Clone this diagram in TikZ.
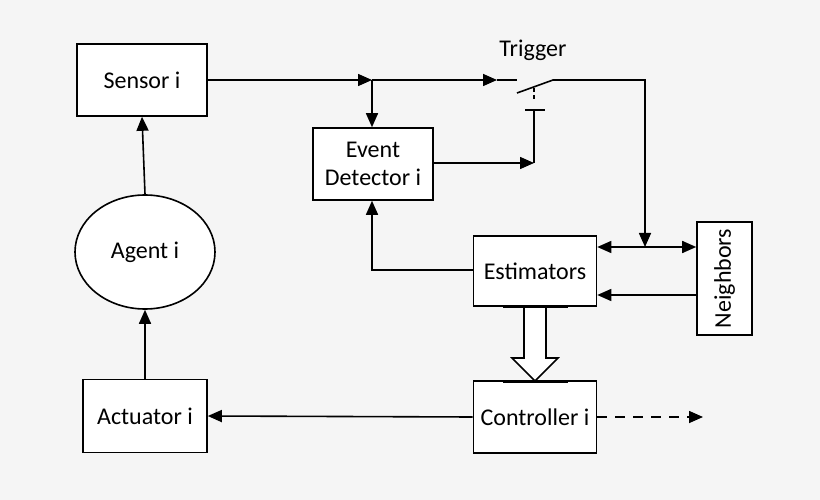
\documentclass[tikz,border=0pt]{standalone}
\usepackage{fontspec}
\setmainfont{Carlito}
\usetikzlibrary{arrows.meta,shapes.geometric}
\newcommand{\myfont}{\fontsize{24}{28}\selectfont}
\begin{document}
\begin{tikzpicture}[x=1pt,y=-1pt,
  box/.style={draw,line width=1.6pt,fill=white,inner sep=0pt,font=\myfont,align=center},
  ln/.style={line width=1.6pt},
  arr/.style={ln,-{Triangle[length=14pt,width=12pt]}}]
\fill[black!4] (0,0) rectangle (820,500);
\useasboundingbox (0,0) rectangle (820,500);
\node[box,minimum width=130pt,minimum height=72pt] (sensor) at (142,80) {Sensor i};
\node[box,ellipse,minimum width=140pt,minimum height=114pt] (agent) at (145,252) {Agent i};
\node[box,minimum width=124pt,minimum height=73pt] (act) at (145,416) {Actuator i};
\node[box,minimum width=120pt,minimum height=72pt] (ed) at (373,164) {Event\\Detector i};
\node[box,minimum width=123pt,minimum height=70pt] (est) at (535,271) {Estimators};
\node[box,minimum width=123pt,minimum height=72pt] (ctl) at (535,417) {Controller i};
\node[box,minimum width=55pt,minimum height=113pt] (nb) at (724.5,278.5) {\rotatebox{90}{Neighbors}};
\node[font=\myfont] (trig) at (533,50) {Trigger};
\coordinate (j1) at (372,80);
\coordinate (sw1) at (497,80);
\draw[arr] (sensor.east |- 0,80) -- (j1);
\draw[arr] (j1) -- (sw1);
\draw[arr] (j1) -- (ed.north -| j1);
\draw[ln] (sw1) -- (517,80);
\draw[ln] (517,93) -- (553,80) -- (570,80);
\coordinate (j2) at (645,247);
\draw[arr] (570,80) -- (645,80) -- (j2);
\draw[ln,dash pattern=on 4pt off 3pt] (534,88) -- (534,100);
\draw[ln] (525,110) -- (545,110);
\coordinate (sw2) at (534,163);
\draw[ln] (534,110) -- (sw2);
\draw[arr] (ed.east |- sw2) -- (sw2);
\draw[arr] (est.west |- 0,270) -- (372,270) -- (ed.south -| 372,0);
\draw[arr] (j2) -- (nb.west |- j2);
\draw[arr] (j2) -- (est.east |- j2);
\draw[arr] (nb.west |- 0,295) -- (est.east |- 0,295);
\draw[ln,fill=white] (524,306) -- (524,358) -- (512,358) -- (535,381) -- (558,358) -- (546,358) -- (546,306);
\draw[line width=3pt] (503,306) -- (568,306);
\draw[line width=3pt] (503,381) -- (568,381);
\draw[arr] (ctl.west) -- (act.east);
\coordinate (dend) at (703,417);
\draw[arr,dash pattern=on 10pt off 8pt] (ctl.east) -- (dend);
\draw[arr] (act.north) -- (agent.south);
\draw[arr] (agent.north) -- (sensor.south);
\end{tikzpicture}
\end{document}
